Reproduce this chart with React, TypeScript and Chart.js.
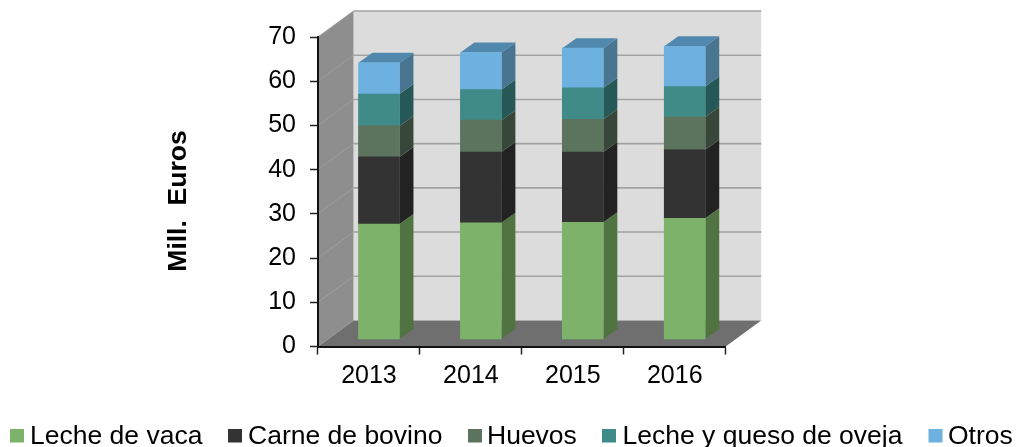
import React, { useEffect, useRef } from "react";
import { Chart, registerables } from "chart.js";

Chart.register(...registerables);

const years = ["2013", "2014", "2015", "2016"];
const lecheVaca = [26.1, 26.4, 26.5, 27.4];
const carneBovino = [15.2, 16.0, 15.9, 15.5];
const huevos = [7.0, 7.2, 7.4, 7.4];
const lecheQueso = [7.2, 6.9, 7.1, 6.9];
const otros = [7.1, 8.4, 9.0, 9.1];

const seriesNames = ["Leche de vaca", "Carne de bovino", "Huevos", "Leche y queso de oveja", "Otros"];
const frontColors = ["#7db26a", "#333333", "#5c745e", "#408a87", "#6cb1df"];
const sideColors = ["#507341", "#222222", "#37483a", "#265857", "#4a7591"];
const topColor = "#5088ae";
const axisTitle = "Mill.  Euros";

const FONT = "'Liberation Sans', Arial, sans-serif";
const WALL_DX = 35.5;
const WALL_DY = -26;
const BAR_DX = 10;
const BAR_DY = -7;
const BAR_DEPTH_X = 14;
const BAR_DEPTH_Y = -10;
const LEGEND_BOX_X = [10, 228, 468, 602, 928.5];
const LEGEND_TEXT_X = [30, 248, 487, 622.5, 948];

function poly(ctx: CanvasRenderingContext2D, pts: number[][], fill: string) {
  ctx.beginPath();
  pts.forEach((p, i) => (i ? ctx.lineTo(p[0], p[1]) : ctx.moveTo(p[0], p[1])));
  ctx.closePath();
  ctx.fillStyle = fill;
  ctx.fill();
}

const walls3d = {
  id: "walls3d",
  beforeDraw(chart: any) {
    const { ctx, chartArea: a, scales } = chart;
    const y = scales.y;
    const l = a.left, r = a.right, t = a.top, b = a.bottom;
    const dx = WALL_DX, dy = WALL_DY;
    ctx.save();
    poly(ctx, [[l + dx, t + dy], [r + dx, t + dy], [r + dx, b + dy], [l + dx, b + dy]], "#dcdcdc");
    poly(ctx, [[l, t], [l + dx, t + dy], [l + dx, b + dy], [l, b]], "#8e8e8e");
    poly(ctx, [[l, b], [l + dx, b + dy], [r + dx, b + dy], [r, b]], "#6f6f6f");
    y.ticks.forEach((tick: any) => {
      const py = y.getPixelForValue(tick.value);
      if (tick.value > 0) {
        ctx.strokeStyle = "#9e9e9e";
        ctx.lineWidth = 1;
        ctx.beginPath();
        ctx.moveTo(l, py);
        ctx.lineTo(l + dx, py + dy);
        ctx.stroke();
        ctx.strokeStyle = "#a2a2a2";
        ctx.lineWidth = 1.6;
        ctx.beginPath();
        ctx.moveTo(l + dx, py + dy);
        ctx.lineTo(r + dx, py + dy);
        ctx.stroke();
      }
    });
    ctx.restore();
  },
  beforeDatasetsDraw(chart: any) {
    const { ctx } = chart;
    ctx.save();
    ctx.translate(BAR_DX, BAR_DY);
    const dx = BAR_DEPTH_X, dy = BAR_DEPTH_Y;
    chart.data.datasets.forEach((_: any, d: number) => {
      const meta = chart.getDatasetMeta(d);
      meta.data.forEach((el: any) => {
        const right = el.x + el.width / 2;
        const left = el.x - el.width / 2;
        poly(ctx, [[right, el.y], [right + dx, el.y + dy], [right + dx, el.base + dy], [right, el.base]], sideColors[d]);
        if (d === chart.data.datasets.length - 1) {
          poly(ctx, [[left, el.y], [left + dx, el.y + dy], [right + dx, el.y + dy], [right, el.y]], topColor);
        }
      });
    });
  },
  afterDatasetsDraw(chart: any) {
    chart.ctx.restore();
  },
  afterDraw(chart: any) {
    const { ctx } = chart;
    ctx.save();
    ctx.fillStyle = "#000";
    ctx.textBaseline = "alphabetic";
    ctx.textAlign = "left";
    ctx.font = `26.5px ${FONT}`;
    seriesNames.forEach((name, i) => {
      ctx.fillStyle = frontColors[i];
      ctx.fillRect(LEGEND_BOX_X[i], 429, 14, 13.5);
      ctx.fillStyle = "#000";
      ctx.fillText(name, LEGEND_TEXT_X[i], 443.5);
    });
    ctx.translate(186, 201);
    ctx.rotate(-Math.PI / 2);
    ctx.textAlign = "center";
    ctx.font = `bold 26.5px ${FONT}`;
    ctx.fillText(axisTitle, 0, 0);
    ctx.restore();
  },
};

export default function App() {
  const ref = useRef<HTMLCanvasElement>(null);
  useEffect(() => {
    document.body.style.margin = "0";
    const values = [lecheVaca, carneBovino, huevos, lecheQueso, otros];
    const chart = new Chart(ref.current as HTMLCanvasElement, {
      type: "bar",
      data: {
        labels: years,
        datasets: seriesNames.map((name, i) => ({
          label: name,
          data: values[i],
          backgroundColor: frontColors[i],
          borderWidth: 0,
          barThickness: 41,
          clip: false as any,
        })),
      },
      plugins: [walls3d],
      options: {
        responsive: false,
        animation: false,
        devicePixelRatio: 1,
        layout: { padding: { top: 37, bottom: 60, left: 0, right: 291.3 } },
        plugins: {
          tooltip: { enabled: false },
          legend: { display: false },
        },
        scales: {
          x: {
            stacked: true,
            offset: true,
            afterFit: (s: any) => { s.height = 40.5; },
            grid: { display: true, drawOnChartArea: false, drawTicks: true, tickLength: 8, tickWidth: 1.5, offset: true, color: "#222" },
            border: { display: true, color: "#111", width: 2 },
            ticks: { color: "#000", font: { family: FONT, size: 25 }, padding: 7, maxRotation: 0 },
          },
          y: {
            stacked: true,
            min: 0,
            max: 70,
            afterFit: (s: any) => { s.width = 318; },
            grid: { display: true, drawOnChartArea: false, drawTicks: true, tickLength: 8, tickWidth: 1.5, color: "#222" },
            border: { display: true, color: "#111", width: 2 },
            ticks: { stepSize: 10, color: "#000", font: { family: FONT, size: 25 }, padding: 14 },
          },
        },
      } as any,
    });
    return () => chart.destroy();
  }, []);
  return (
    <div style={{ width: 1017, height: 447, position: "relative" }}>
      <canvas ref={ref} width={1017} height={447} style={{ display: "block", filter: "blur(0.4px)" }} />
    </div>
  );
}
